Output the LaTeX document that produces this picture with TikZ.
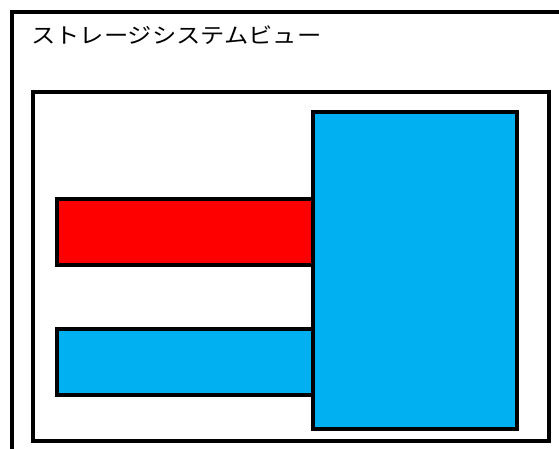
\documentclass[tikz,border=0pt]{standalone}
\usepackage{fontspec}
\newfontfamily\jpfont{Noto Sans CJK JP}
\definecolor{skyblue}{HTML}{00B0F0}
\definecolor{redfill}{HTML}{FF0000}
\begin{document}
\begin{tikzpicture}[x=1pt,y=-1pt,
  box/.style={draw=black,line width=3.8pt,outer sep=0pt,inner sep=0pt,anchor=north west},
  title/.style={anchor=base west,inner sep=0pt,font=\jpfont\fontsize{21.5}{24}\selectfont}]
\useasboundingbox (0,0) rectangle (559,448);
\clip (0,0) rectangle (559,448);
\draw[line width=4pt] (12,12) rectangle (580,470);
\node[title] (t) at (31,43) {\scalebox{1.13}[1]{ストレージシステムビュー}};
\draw[draw=black,line width=3.5pt] (33,92) rectangle (549,441);
\node[box,fill=redfill,minimum width=256pt,minimum height=66pt] (r) at (57,199) {};
\node[box,fill=skyblue,minimum width=256pt,minimum height=66pt] (b) at (57,329) {};
\node[box,fill=skyblue,minimum width=204pt,minimum height=317pt] (big) at (313,112) {};
\end{tikzpicture}
\end{document}
